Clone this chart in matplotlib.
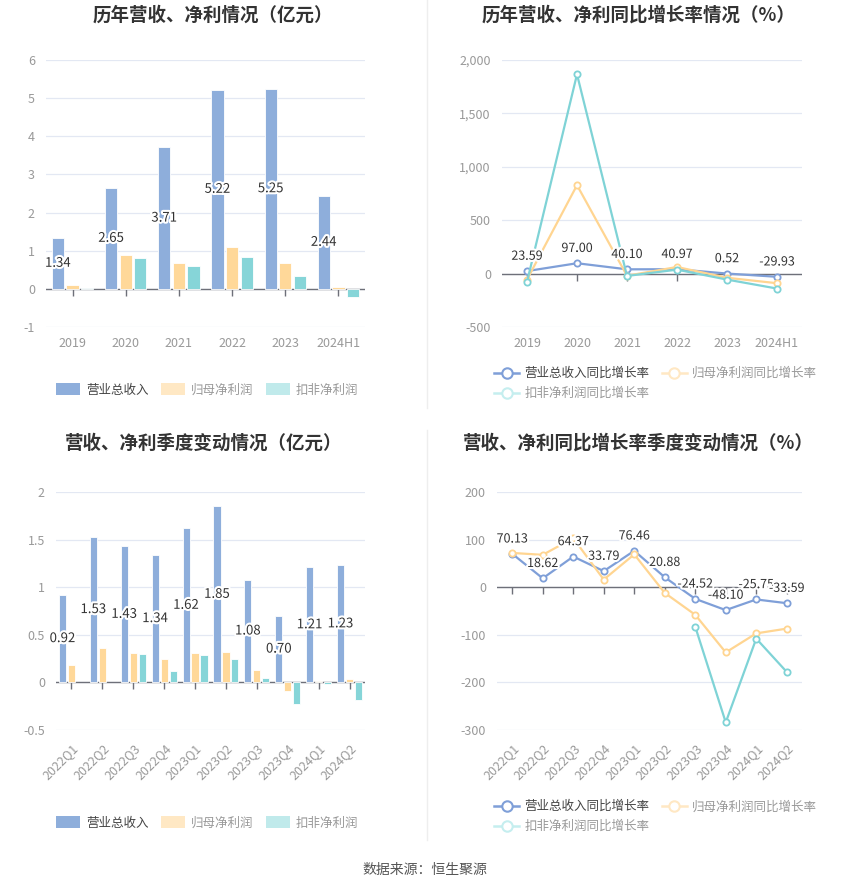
import numpy as np
import matplotlib
matplotlib.use("Agg")
import matplotlib.pyplot as plt
import matplotlib.patheffects as pe
from matplotlib.lines import Line2D
from matplotlib.ticker import FuncFormatter

plt.rcParams['font.family'] = ['Noto Sans CJK SC', 'DejaVu Sans']
plt.rcParams['axes.unicode_minus'] = False

# annual data (亿元)
years = ['2019', '2020', '2021', '2022', '2023', '2024H1']
rev_y = [1.34, 2.65, 3.71, 5.22, 5.25, 2.44]
net_y = [0.09, 0.88, 0.68, 1.09, 0.67, 0.04]
ded_y = [0.035, 0.80, 0.61, 0.83, 0.34, -0.21]

# annual growth (%)
rev_g_y = [23.59, 97.00, 40.10, 40.97, 0.52, -29.93]
net_g_y = [-56, 828, -20, 62, -39, -90]
ded_g_y = [-78, 1866, -22, 37, -56, -140]

# quarterly data (亿元)
quarters = ['2022Q1', '2022Q2', '2022Q3', '2022Q4', '2023Q1', '2023Q2',
            '2023Q3', '2023Q4', '2024Q1', '2024Q2']
rev_q = [0.92, 1.53, 1.43, 1.34, 1.62, 1.85, 1.08, 0.70, 1.21, 1.23]
net_q = [0.185, 0.36, 0.31, 0.25, 0.31, 0.32, 0.13, -0.087, 0.014, 0.04]
ded_q = [np.nan, np.nan, 0.30, 0.12, 0.29, 0.25, 0.05, -0.23, -0.02, -0.19]

# quarterly growth (%)
rev_g_q = [70.13, 18.62, 64.37, 33.79, 76.46, 20.88, -24.52, -48.10, -25.75, -33.59]
net_g_q = [72, 68, 103, 16, 69, -12, -58, -137, -97, -87]
ded_g_q = [np.nan, np.nan, np.nan, np.nan, np.nan, np.nan, -83, -284, -108, -178]

C_REV = '#8eaedb'
C_NET = '#ffd899'
C_DED = '#86d5d8'
L_REV = '#7f9fd8'
L_NET = '#ffd591'
L_DED = '#7fd3d6'
GRID = '#e3e8f3'
TXT = '#999999'

W, H = 850, 891
fig = plt.figure(figsize=(W / 100, H / 100), dpi=100)


def px_axes(l, t, r, b):
    return fig.add_axes([l / W, 1 - b / H, (r - l) / W, (b - t) / H])


def style(ax, ylim, yticks, fmt, labels, rot=False):
    ax.set_ylim(*ylim)
    ax.set_yticks(yticks)
    ax.yaxis.set_major_formatter(FuncFormatter(fmt))
    ax.set_xlim(-0.5, len(labels) - 0.5)
    for s in ax.spines.values():
        s.set_visible(False)
    ax.grid(axis='y', color=GRID, lw=0.9)
    ax.set_axisbelow(True)
    ax.tick_params(axis='both', length=0, colors=TXT, labelsize=9)
    ax.tick_params(axis='y', pad=8)
    ax.axhline(0, color='#6e7079', lw=1, zorder=2)
    x = np.arange(len(labels))
    ax.plot(x, np.zeros(len(x)), ls='none', marker=3, ms=5, mew=1,
            color='#6e7079', zorder=2, clip_on=False)
    ax.set_xticks(x)
    if rot:
        ax.set_xticklabels(labels, rotation=45, ha='right', va='top',
                           rotation_mode='anchor')
        ax.tick_params(axis='x', pad=8)
    else:
        ax.set_xticklabels(labels)
        ax.tick_params(axis='x', pad=7)


outline = [pe.withStroke(linewidth=3, foreground='white')]


def bars(ax, cats, rev, net, ded, bw, off):
    x = np.arange(len(cats))
    ax.bar(x - off, rev, bw, color=C_REV, edgecolor='white', lw=0.6, zorder=3)
    ax.bar(x, net, bw, color=C_NET, edgecolor='white', lw=0.6, zorder=3)
    ax.bar(x + off, ded, bw, color=C_DED, edgecolor='white', lw=0.6, zorder=3)
    for xi, v in zip(x, rev):
        ax.text(xi - off, v / 2, f'{v:.2f}', ha='center', va='center',
                fontsize=9.5, color='#333333', path_effects=outline, zorder=5)


def lines(ax, cats, rev, net, ded):
    x = np.arange(len(cats))
    kw = dict(lw=1.6, marker='o', ms=4.5, mfc='white', mew=1.3, zorder=3)
    ax.plot(x, rev, color=L_REV, mec=L_REV, **kw)
    ax.plot(x, net, color=L_NET, mec=L_NET, **kw)
    ax.plot(x, ded, color=L_DED, mec=L_DED, **kw)
    for xi, v in zip(x, rev):
        ax.annotate(f'{v:.2f}', (xi, v), xytext=(0, 6), textcoords='offset points',
                    ha='center', va='bottom', fontsize=9, color='#333333',
                    path_effects=outline, zorder=5)


def bar_legend(y):
    hs = [plt.Rectangle((0, 0), 1, 1, fc=C_REV), plt.Rectangle((0, 0), 1, 1, fc='#ffe8c4'),
          plt.Rectangle((0, 0), 1, 1, fc='#c0eaeb')]
    lg = fig.legend(hs, ['营业总收入', '归母净利润', '扣非净利润'], loc='center',
                    bbox_to_anchor=(207 / W, 1 - y / H), ncol=3, frameon=False,
                    fontsize=9, handlelength=1.9, handleheight=1.1,
                    handletextpad=0.5, columnspacing=1.0)
    for t, c in zip(lg.get_texts(), ['#444444', '#999999', '#999999']):
        t.set_color(c)


def line_legend(y):
    kw = dict(lw=1.8, marker='o', ms=7.5, mfc='white', mew=1.5)
    hs = [Line2D([], [], color=L_REV, mec=L_REV, **kw),
          Line2D([], [], color='#c5eeef', mec='#c5eeef', **kw),
          Line2D([], [], color='#ffe8c4', mec='#ffe8c4', **kw)]
    lg = fig.legend(hs, ['营业总收入同比增长率', '扣非净利润同比增长率', '归母净利润同比增长率'],
                    loc='upper left', bbox_to_anchor=(483 / W, 1 - y / H), ncol=2,
                    frameon=False, fontsize=9, handlelength=2.0,
                    handletextpad=0.4, columnspacing=1.0, labelspacing=0.55)
    for t, c in zip(lg.get_texts(), ['#444444', '#999999', '#999999']):
        t.set_color(c)


# top-left
ax1 = px_axes(46, 60, 365, 327)
bars(ax1, years, rev_y, net_y, ded_y, 0.23, 0.275)
style(ax1, (-1, 6), range(-1, 7), lambda v, p: f'{v:.0f}', years)

# top-right
ax2 = px_axes(502, 60, 802, 327)
lines(ax2, years, rev_g_y, net_g_y, ded_g_y)
style(ax2, (-500, 2000), range(-500, 2001, 500), lambda v, p: f'{v:,.0f}', years)

# bottom-left
ax3 = px_axes(56, 492, 365, 730)
bars(ax3, quarters, rev_q, net_q, ded_q, 0.23, 0.29)
style(ax3, (-0.5, 2), [-0.5, 0, 0.5, 1, 1.5, 2], lambda v, p: f'{v:g}', quarters, rot=True)

# bottom-right
ax4 = px_axes(497, 492, 802, 730)
lines(ax4, quarters, rev_g_q, net_g_q, ded_g_q)
style(ax4, (-300, 200), range(-300, 201, 100), lambda v, p: f'{v:.0f}', quarters, rot=True)

tkw = dict(ha='center', va='center', fontsize=13.3, fontweight='bold', color='#333333')
fig.text(213 / W, 1 - 15 / H, '历年营收、净利情况（亿元）', **tkw)
fig.text(639 / W, 1 - 15 / H, '历年营收、净利同比增长率情况（%）', **tkw)
fig.text(204 / W, 1 - 443 / H, '营收、净利季度变动情况（亿元）', **tkw)
fig.text(638 / W, 1 - 443 / H, '营收、净利同比增长率季度变动情况（%）', **tkw)

bar_legend(390)
bar_legend(823)
line_legend(356)
line_legend(789)

# separators
fig.add_artist(Line2D([427 / W, 427 / W], [1 - 0 / H, 1 - 408 / H], color='#eeeeee', lw=1))
fig.add_artist(Line2D([427 / W, 427 / W], [1 - 430 / H, 1 - 840 / H], color='#eeeeee', lw=1))

fig.text(425 / W, 1 - 870 / H, '数据来源：恒生聚源', ha='center', va='center',
         fontsize=10, color='#555555')

fig.savefig('out.png', dpi=100, facecolor='white')
